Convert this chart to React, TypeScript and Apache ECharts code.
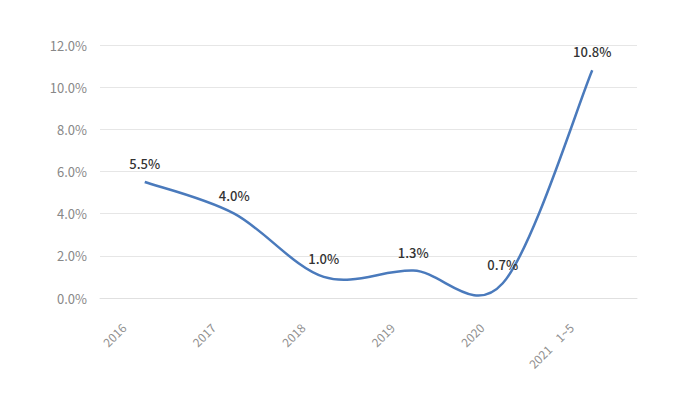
import React, { useEffect, useRef } from "react";
import * as echarts from "echarts";

const categories = ["2016", "2017", "2018", "2019", "2020", "2021    1~5"];
const growthValues = [5.5, 4.0, 1.0, 1.3, 0.7, 10.8];
const yTicks = { min: 0, max: 12, interval: 2 };

const LINE_COLOR = "#4a7abc";
const FONT = "Noto Sans CJK SC, sans-serif";

export default function App() {
  const ref = useRef<HTMLDivElement>(null);
  useEffect(() => {
    if (!ref.current) return;
    const chart = echarts.init(ref.current, undefined, { renderer: "svg" });

    const renderItem = (params: any, api: any) => {
      const idx = params.dataIndex;
      const pts = growthValues.map((v, i) => api.coord([i, v]));
      const children: any[] = [];
      if (idx === 0) {
        // Catmull-Rom style smoothing (like spreadsheet smoothed lines)
        let d = `M${pts[0][0]},${pts[0][1]}`;
        for (let i = 0; i < pts.length - 1; i++) {
          const p0 = pts[Math.max(0, i - 1)];
          const p1 = pts[i];
          const p2 = pts[i + 1];
          const p3 = pts[Math.min(pts.length - 1, i + 2)];
          const c1x = p1[0] + (p2[0] - p0[0]) / 6;
          const c1y = p1[1] + (p2[1] - p0[1]) / 6;
          const c2x = p2[0] - (p3[0] - p1[0]) / 6;
          const c2y = p2[1] - (p3[1] - p1[1]) / 6;
          d += ` C${c1x},${c1y} ${c2x},${c2y} ${p2[0]},${p2[1]}`;
        }
        children.push({
          type: "path",
          shape: { pathData: d },
          style: { stroke: LINE_COLOR, lineWidth: 2.5, fill: "none" },
          z2: 1,
        });
      }
      const p = pts[idx];
      children.push({
        type: "text",
        x: p[0],
        y: p[1] - 12,
        style: {
          text: growthValues[idx].toFixed(1) + "%",
          fill: "#333333",
          font: `500 13px ${FONT}`,
          align: "center",
          verticalAlign: "bottom",
        },
        z2: 2,
      });
      return { type: "group", children };
    };

    chart.setOption({
      animation: false,
      backgroundColor: "#ffffff",
      grid: { left: 100, right: 63, top: 45, bottom: 98 },
      xAxis: {
        type: "category",
        data: categories,
        boundaryGap: true,
        axisLine: { show: true, lineStyle: { color: "#e0e0e0", width: 1 } },
        axisTick: { show: false },
        axisLabel: {
          rotate: 45,
          color: "#909090",
          fontSize: 12,
          fontFamily: FONT,
          margin: 6,
          padding: [0, 30, 0, 0],
        },
      },
      yAxis: {
        type: "value",
        min: yTicks.min,
        max: yTicks.max,
        interval: yTicks.interval,
        axisLine: { show: false },
        axisTick: { show: false },
        axisLabel: {
          color: "#888888",
          fontSize: 13,
          fontFamily: FONT,
          margin: 13,
          formatter: (v: number) => v.toFixed(1) + "%",
        },
        splitLine: { lineStyle: { color: "#e6e6e6", width: 1 } },
      },
      series: [
        {
          type: "custom",
          data: growthValues.map((v, i) => [i, v]),
          encode: { x: 0, y: 1 },
          renderItem,
          clip: false,
        },
      ],
    });
    return () => chart.dispose();
  }, []);
  return <div ref={ref} style={{ width: 700, height: 396, position: "fixed", left: 0, top: 0 }} />;
}
